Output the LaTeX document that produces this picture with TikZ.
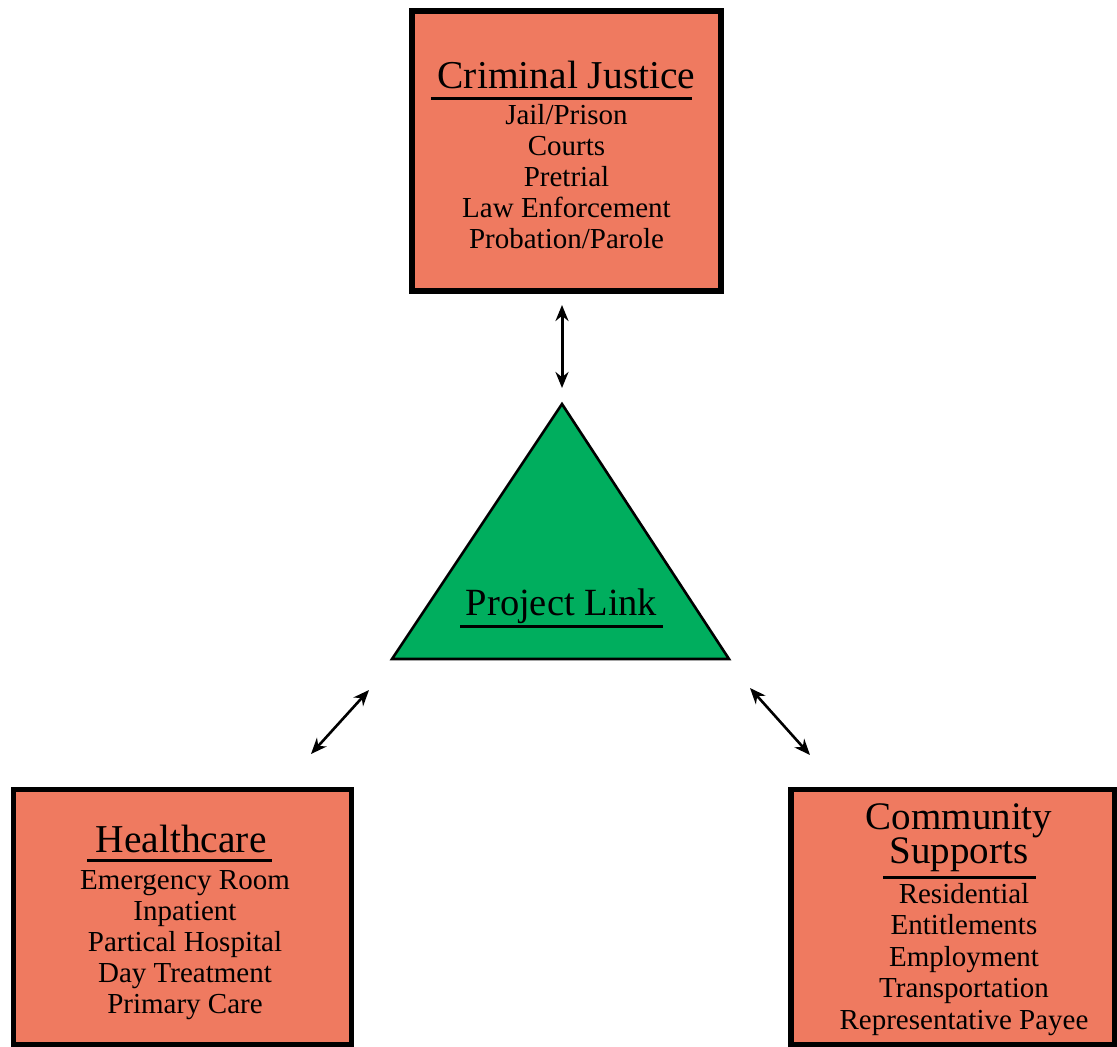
\documentclass[tikz,border=0pt]{standalone}
\usepackage{fontspec}
\setmainfont{Liberation Serif}
\usetikzlibrary{arrows.meta}
\definecolor{salmon}{HTML}{EF7A60}
\definecolor{linkgreen}{HTML}{00AE5E}
\newcommand{\tightlines}{\lineskiplimit=-100pt\relax\lineskip=0pt\relax}
\begin{document}
\begin{tikzpicture}[x=1pt,y=-1pt,
  box/.style={draw=black,line width=5.5pt,fill=salmon,rectangle,inner sep=0pt},
  ttl/.style={anchor=base,inner sep=0pt,font=\fontsize{39.5}{42}\selectfont},
  itm/.style={anchor=base,inner sep=0pt,font=\fontsize{29}{31}\selectfont},
  uline/.style={line width=3pt},
  link/.style={line width=2.6pt,{Stealth[length=16pt,width=13pt]}-{Stealth[length=16pt,width=13pt]}}]
\useasboundingbox (0,0) rectangle (1117,1047);
% boxes
\node[box,minimum width=309pt,minimum height=280pt] (cj) at (566.5,151) {};
\node[box,minimum width=338pt,minimum height=255.5pt] (hc) at (182.5,917.25) {};
\node[box,minimum width=323.5pt,minimum height=255.5pt] (cs) at (952.75,917.25) {};
% triangle
\coordinate (tA) at (562,404);
\coordinate (tL) at (392,659);
\coordinate (tR) at (729,659);
\draw[fill=linkgreen,line width=2.6pt,line join=miter] (tA) -- (tL) -- (tR) -- cycle;
\node[ttl,font=\fontsize{38.5}{42}\selectfont] (pl) at (561.5,615) {Project Link};
\draw[uline] (460,626) -- (663,626);
% criminal justice text
\node[ttl] (cjt) at (566.5,88) {Criminal Justice};
\draw[uline] (431,98.5) -- (692,98.5);
\node[itm] (cj1) at (566.5,124) {Jail/Prison};
\node[itm] (cj2) at (566.5,155) {Courts};
\node[itm] (cj3) at (566.5,186) {Pretrial};
\node[itm] (cj4) at (566.5,217) {Law Enforcement};
\node[itm] (cj5) at (566.5,248) {Probation/Parole};
% healthcare text
\node[ttl] (hct) at (181,852) {Healthcare};
\draw[uline] (87,860) -- (272,860);
\node[itm] (hc1) at (185,889) {Emergency Room};
\node[itm] (hc2) at (185,920) {Inpatient};
\node[itm] (hc3) at (185,951) {Partical Hospital};
\node[itm] (hc4) at (185,982) {Day Treatment};
\node[itm] (hc5) at (185,1013) {Primary Care};
% community supports text
\node[ttl,align=center,font=\fontsize{39}{34}\selectfont\tightlines] (cst) at (959,863) {Community\\Supports};
\draw[uline] (883,877) -- (1036,877);
\node[itm] (cs1) at (964,903) {Residential};
\node[itm] (cs2) at (964,934.5) {Entitlements};
\node[itm] (cs3) at (964,966) {Employment};
\node[itm] (cs4) at (964,997.5) {Transportation};
\node[itm] (cs5) at (964,1029) {Representative Payee};
% arrow end points
\coordinate (a1) at (562,305);
\coordinate (a2) at (562,388);
\coordinate (b1) at (369,690);
\coordinate (b2) at (311,754);
\coordinate (c1) at (750,688);
\coordinate (c2) at (810,755);
\draw[link,line width=3pt] (a1) -- (a2);
\draw[link] (b1) -- (b2);
\draw[link] (c1) -- (c2);
\end{tikzpicture}
\end{document}
